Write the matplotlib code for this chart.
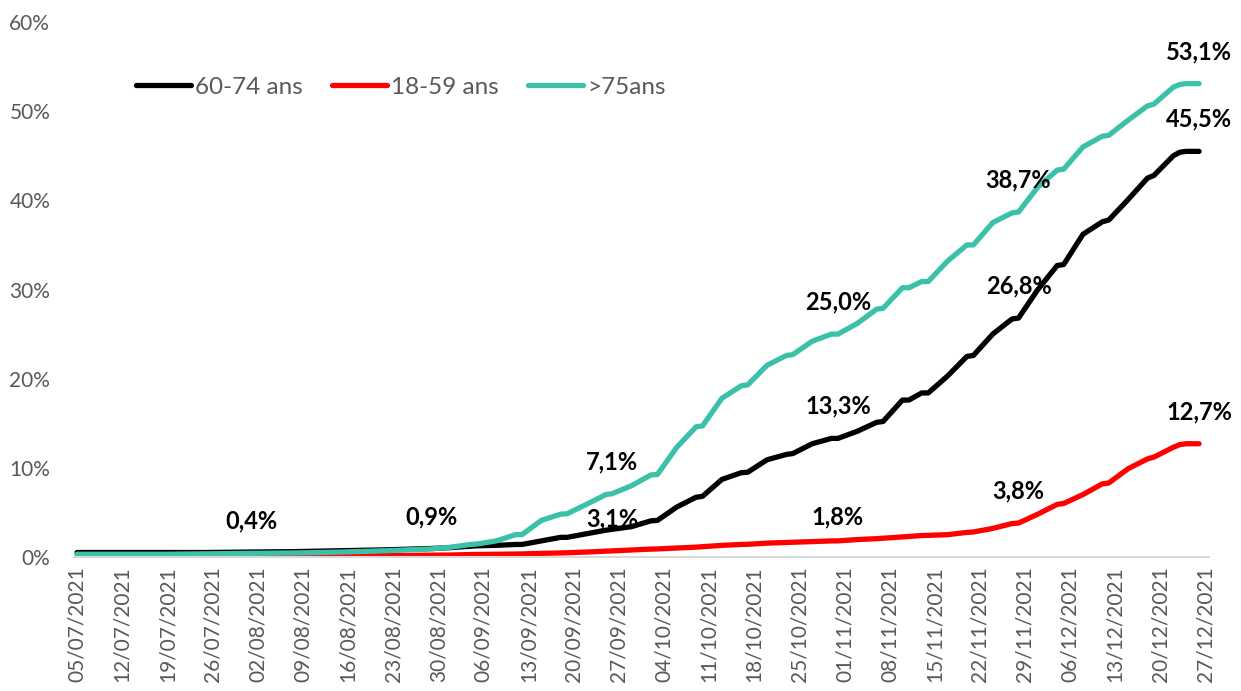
import pandas as pd
import matplotlib
matplotlib.use("Agg")
import matplotlib.pyplot as plt
import matplotlib.dates as mdates
from matplotlib.ticker import PercentFormatter

dates = ["05/07/2021", "11/07/2021", "18/07/2021", "25/07/2021", "01/08/2021",
         "08/08/2021", "15/08/2021", "22/08/2021", "29/08/2021",
         "01/09/2021", "04/09/2021", "05/09/2021",
         "08/09/2021", "11/09/2021", "12/09/2021",
         "15/09/2021", "18/09/2021", "19/09/2021",
         "22/09/2021", "25/09/2021", "26/09/2021",
         "29/09/2021", "02/10/2021", "03/10/2021",
         "06/10/2021", "09/10/2021", "10/10/2021",
         "13/10/2021", "16/10/2021", "17/10/2021",
         "20/10/2021", "23/10/2021", "24/10/2021",
         "27/10/2021", "30/10/2021", "31/10/2021",
         "03/11/2021", "06/11/2021", "07/11/2021",
         "10/11/2021", "11/11/2021", "13/11/2021", "14/11/2021",
         "17/11/2021", "20/11/2021", "21/11/2021",
         "24/11/2021", "27/11/2021", "28/11/2021",
         "01/12/2021", "04/12/2021", "05/12/2021",
         "08/12/2021", "11/12/2021", "12/12/2021",
         "15/12/2021", "18/12/2021", "19/12/2021",
         "22/12/2021", "23/12/2021", "24/12/2021", "25/12/2021", "26/12/2021"]

# Taux (%) - 60-74 ans
taux_60_74 = [0.5, 0.5, 0.5, 0.5, 0.55, 0.6, 0.7, 0.8, 0.95,
              1.05, 1.2, 1.25,
              1.3, 1.4, 1.4,
              1.8, 2.2, 2.2,
              2.6, 3.0, 3.1,
              3.4, 4.05, 4.1,
              5.6, 6.7, 6.8,
              8.7, 9.45, 9.5,
              10.9, 11.5, 11.6,
              12.7, 13.3, 13.3,
              14.1, 15.1, 15.2,
              17.6, 17.6, 18.4, 18.4,
              20.3, 22.5, 22.6,
              25.0, 26.7, 26.8,
              30.0, 32.7, 32.8,
              36.2, 37.6, 37.8,
              40.1, 42.5, 42.8,
              45.0, 45.4, 45.5, 45.5, 45.5]

# Taux (%) - 18-59 ans
taux_18_59 = [0.0, 0.0, 0.02, 0.03, 0.05, 0.08, 0.1, 0.15, 0.2,
              0.22, 0.27, 0.28,
              0.3, 0.33, 0.34,
              0.4, 0.45, 0.47,
              0.55, 0.65, 0.68,
              0.78, 0.88, 0.9,
              1.0, 1.1, 1.15,
              1.3, 1.4, 1.42,
              1.55, 1.62, 1.65,
              1.72, 1.8, 1.8,
              1.95, 2.05, 2.1,
              2.25, 2.3, 2.4, 2.42,
              2.5, 2.75, 2.8,
              3.2, 3.75, 3.8,
              4.8, 5.9, 6.0,
              7.0, 8.2, 8.3,
              9.9, 11.0, 11.2,
              12.3, 12.6, 12.7, 12.7, 12.7]

# Taux (%) - plus de 75 ans
taux_75 = [0.3, 0.3, 0.3, 0.35, 0.4, 0.45, 0.55, 0.7, 0.9,
           1.1, 1.4, 1.45,
           1.8, 2.5, 2.5,
           4.1, 4.8, 4.85,
           5.9, 7.0, 7.1,
           8.0, 9.2, 9.25,
           12.3, 14.6, 14.7,
           17.8, 19.2, 19.3,
           21.5, 22.6, 22.7,
           24.2, 25.0, 25.0,
           26.2, 27.8, 27.9,
           30.2, 30.2, 30.9, 30.9,
           33.2, 35.0, 35.0,
           37.5, 38.6, 38.7,
           41.5, 43.4, 43.5,
           46.0, 47.2, 47.3,
           49.0, 50.6, 50.8,
           52.7, 53.0, 53.1, 53.1, 53.1]

# Etiquettes affichees sur les courbes : (serie, date, texte)
etiquettes = [(">75ans", "01/08/2021", "0,4%"),
              (">75ans", "29/08/2021", "0,9%"),
              ("60-74 ans", "26/09/2021", "3,1%"),
              (">75ans", "26/09/2021", "7,1%"),
              ("18-59 ans", "31/10/2021", "1,8%"),
              ("60-74 ans", "31/10/2021", "13,3%"),
              (">75ans", "31/10/2021", "25,0%"),
              ("18-59 ans", "28/11/2021", "3,8%"),
              ("60-74 ans", "28/11/2021", "26,8%"),
              (">75ans", "28/11/2021", "38,7%"),
              ("18-59 ans", "26/12/2021", "12,7%"),
              ("60-74 ans", "26/12/2021", "45,5%"),
              (">75ans", "26/12/2021", "53,1%")]

x = pd.to_datetime(dates, format="%d/%m/%Y")
series = {"60-74 ans": taux_60_74, "18-59 ans": taux_18_59, ">75ans": taux_75}
couleurs = {"60-74 ans": "#000000", "18-59 ans": "#FF0000", ">75ans": "#3BC1A8"}

plt.rcParams['font.family'] = ['Lato', 'DejaVu Sans']

fig = plt.figure(figsize=(12.41, 6.91), dpi=100)
ax = fig.add_axes([0.0595, 0.194, 0.9145, 0.774])

for nom in series:
    ax.plot(x, [v / 100 for v in series[nom]], color=couleurs[nom], linewidth=3.8,
            solid_capstyle="round", solid_joinstyle="round", label=nom)

# Etiquettes de donnees au-dessus des points
for nom, d, texte in etiquettes:
    i = dates.index(d)
    decalage = 32
    if texte == "3,1%":
        decalage = 10
    if texte == "1,8%":
        decalage = 24
    ax.annotate(texte, (x[i], series[nom][i] / 100), xytext=(0, decalage),
                textcoords="offset pixels", ha="center", va="center",
                fontsize=17, fontweight="bold", color="black")

ax.set_ylim(0, 0.6)
ax.set_xlim(pd.Timestamp("2021-07-04 12:00"), pd.Timestamp("2021-12-27 12:00"))
ax.yaxis.set_major_formatter(PercentFormatter(1.0, decimals=0))
ax.set_yticks([0, 0.1, 0.2, 0.3, 0.4, 0.5, 0.6])

ax.xaxis.set_major_locator(mdates.WeekdayLocator(byweekday=mdates.MO))
ax.xaxis.set_major_formatter(mdates.DateFormatter("%d/%m/%Y"))
plt.setp(ax.get_xticklabels(), rotation=90)

ax.tick_params(axis="both", length=0, labelsize=15, labelcolor="#595959")
ax.tick_params(axis="y", pad=17)
ax.tick_params(axis="x", pad=7)

for s in ["top", "right", "left"]:
    ax.spines[s].set_visible(False)
ax.spines["bottom"].set_color("#D9D9D9")
ax.spines["bottom"].set_linewidth(1.5)

fig.legend(loc="center", bbox_to_anchor=(0.323, 0.874), ncol=3, frameon=False,
           fontsize=17.5, handlelength=2.26, columnspacing=1.2, handletextpad=0.18,
           labelcolor="#595959")

fig.savefig("out.png", dpi=100)
